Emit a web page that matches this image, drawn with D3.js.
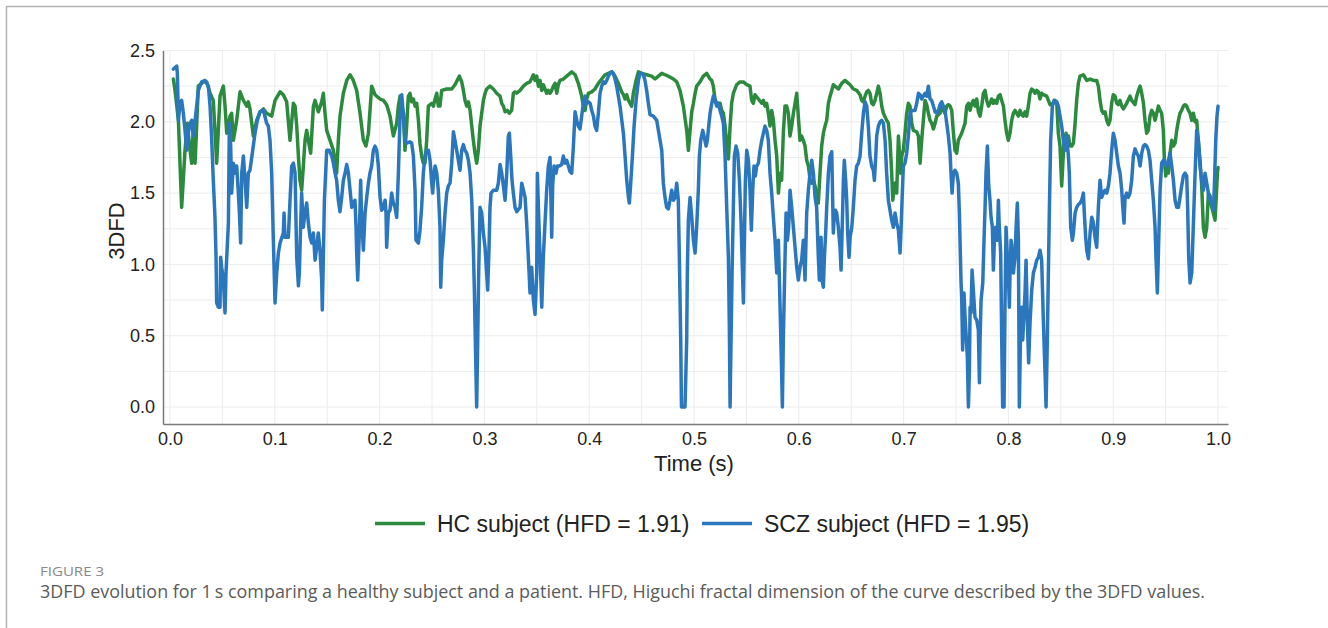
<!DOCTYPE html>
<html>
<head>
<meta charset="utf-8">
<script src="https://cdn.jsdelivr.net/npm/d3@7"></script>
<style>
  html, body { margin: 0; padding: 0; background: #ffffff; }
  svg { display: block; }
</style>
</head>
<body>
<svg id="chart" width="1328" height="628"></svg>
<script>
// ---- data -------------------------------------------------------------
const xTicks = [0, 0.1, 0.2, 0.3, 0.4, 0.5, 0.6, 0.7, 0.8, 0.9, 1.0];
const yTicks = [0, 0.5, 1.0, 1.5, 2.0, 2.5];
const seriesLabels = ["HC subject (HFD = 1.91)", "SCZ subject (HFD = 1.95)"];

// [time (s), 3DFD] for the healthy control
const hcSeries = [
  [0.0032,2.30],[0.0048,2.22],[0.0080,2.01],[0.0111,1.40],[0.0143,1.80],[0.0165,1.99],[0.0191,1.80],[0.0207,1.71],
  [0.0223,1.97],[0.0239,1.71],[0.0270,2.25],[0.0318,2.28],[0.0350,2.28],[0.0382,2.20],[0.0413,2.15],[0.0445,1.71],
  [0.0477,2.18],[0.0509,2.25],[0.0525,2.11],[0.0541,1.92],[0.0573,2.04],[0.0588,2.06],[0.0604,1.87],[0.0636,2.01],
  [0.0668,2.21],[0.0700,2.15],[0.0732,2.11],[0.0747,2.14],[0.0763,2.09],[0.0795,1.90],[0.0827,2.01],[0.0859,2.07],
  [0.0891,2.09],[0.0922,2.06],[0.0970,2.04],[0.1002,2.15],[0.1050,2.21],[0.1081,2.19],[0.1113,2.14],[0.1145,1.87],
  [0.1177,2.13],[0.1193,2.11],[0.1209,1.97],[0.1225,1.76],[0.1240,1.59],[0.1256,1.52],[0.1272,1.69],[0.1288,1.87],
  [0.1304,1.94],[0.1320,1.87],[0.1342,1.78],[0.1368,2.11],[0.1384,2.15],[0.1415,2.07],[0.1447,2.14],[0.1463,2.20],
  [0.1479,2.06],[0.1495,1.94],[0.1527,1.87],[0.1559,1.80],[0.1590,1.64],[0.1606,1.87],[0.1622,2.04],[0.1654,2.20],
  [0.1686,2.29],[0.1718,2.33],[0.1749,2.29],[0.1781,2.22],[0.1813,2.06],[0.1845,1.87],[0.1870,1.83],[0.1893,1.92],
  [0.1924,2.25],[0.1956,2.19],[0.2004,2.16],[0.2036,2.15],[0.2067,2.12],[0.2099,2.04],[0.2131,1.90],[0.2163,1.99],
  [0.2179,2.11],[0.2195,2.18],[0.2227,2.06],[0.2242,1.80],[0.2258,1.97],[0.2274,2.18],[0.2290,2.20],[0.2306,2.14],
  [0.2322,2.16],[0.2338,2.11],[0.2354,2.13],[0.2370,2.01],[0.2385,1.85],[0.2401,1.76],[0.2417,1.71],[0.2433,1.71],
  [0.2449,1.87],[0.2465,2.11],[0.2497,2.13],[0.2513,2.11],[0.2529,2.16],[0.2545,2.20],[0.2560,2.11],[0.2576,2.11],
  [0.2592,2.22],[0.2640,2.23],[0.2688,2.23],[0.2719,2.26],[0.2761,2.32],[0.2783,2.28],[0.2799,2.22],[0.2815,2.15],
  [0.2831,2.11],[0.2847,2.14],[0.2863,2.08],[0.2879,1.97],[0.2894,1.87],[0.2910,1.78],[0.2926,1.71],[0.2942,1.80],
  [0.2958,1.97],[0.2974,2.06],[0.2990,2.15],[0.3006,2.20],[0.3021,2.23],[0.3053,2.25],[0.3085,2.23],[0.3117,2.20],
  [0.3149,2.18],[0.3165,2.13],[0.3181,2.11],[0.3197,2.07],[0.3219,2.08],[0.3238,2.06],[0.3260,2.08],[0.3276,2.20],
  [0.3292,2.21],[0.3308,2.20],[0.3340,2.22],[0.3372,2.25],[0.3403,2.27],[0.3435,2.28],[0.3467,2.33],[0.3483,2.29],
  [0.3499,2.32],[0.3515,2.25],[0.3531,2.29],[0.3547,2.22],[0.3562,2.26],[0.3578,2.23],[0.3594,2.20],[0.3610,2.22],
  [0.3626,2.20],[0.3642,2.22],[0.3658,2.25],[0.3674,2.27],[0.3690,2.20],[0.3705,2.26],[0.3721,2.29],[0.3753,2.30],
  [0.3785,2.32],[0.3817,2.34],[0.3833,2.35],[0.3865,2.33],[0.3896,2.27],[0.3928,2.18],[0.3944,2.11],[0.3960,2.08],
  [0.3976,2.16],[0.3992,2.20],[0.4024,2.21],[0.4055,2.23],[0.4087,2.27],[0.4119,2.30],[0.4151,2.33],[0.4183,2.34],
  [0.4215,2.35],[0.4246,2.32],[0.4278,2.27],[0.4310,2.21],[0.4326,2.19],[0.4342,2.16],[0.4358,2.19],[0.4374,2.15],
  [0.4389,2.13],[0.4405,2.11],[0.4421,2.20],[0.4447,2.29],[0.4469,2.35],[0.4501,2.34],[0.4548,2.33],[0.4596,2.32],
  [0.4628,2.30],[0.4660,2.32],[0.4692,2.34],[0.4723,2.33],[0.4755,2.32],[0.4803,2.30],[0.4835,2.28],[0.4866,2.22],
  [0.4898,2.11],[0.4930,1.94],[0.4946,1.80],[0.4962,1.94],[0.4978,2.07],[0.4994,2.13],[0.5010,2.20],[0.5025,2.25],
  [0.5057,2.28],[0.5089,2.32],[0.5121,2.34],[0.5153,2.30],[0.5169,2.29],[0.5184,2.25],[0.5200,2.16],[0.5216,2.13],
  [0.5248,2.13],[0.5264,2.08],[0.5280,2.06],[0.5296,1.97],[0.5312,1.85],[0.5328,1.74],[0.5344,1.97],[0.5359,2.13],
  [0.5375,2.20],[0.5407,2.26],[0.5439,2.28],[0.5471,2.28],[0.5503,2.26],[0.5534,2.25],[0.5550,2.15],[0.5566,2.13],
  [0.5582,2.19],[0.5614,2.16],[0.5646,2.13],[0.5662,2.15],[0.5677,2.11],[0.5693,2.13],[0.5709,2.06],[0.5725,1.97],
  [0.5741,2.08],[0.5757,2.01],[0.5773,1.87],[0.5789,1.76],[0.5805,1.50],[0.5821,1.64],[0.5836,1.59],[0.5852,1.92],
  [0.5868,2.11],[0.5884,2.11],[0.5900,2.06],[0.5916,1.90],[0.5932,1.97],[0.5948,2.06],[0.5964,2.13],[0.5980,2.20],
  [0.5995,2.04],[0.6011,1.87],[0.6027,1.90],[0.6043,1.87],[0.6059,1.83],[0.6075,1.73],[0.6091,1.69],[0.6107,1.60],
  [0.6123,1.57],[0.6139,1.59],[0.6155,1.55],[0.6170,1.47],[0.6186,1.43],[0.6202,1.64],[0.6218,1.83],[0.6234,1.92],
  [0.6250,1.97],[0.6266,2.01],[0.6282,2.13],[0.6298,2.18],[0.6314,2.22],[0.6329,2.26],[0.6345,2.25],[0.6377,2.23],
  [0.6409,2.27],[0.6441,2.29],[0.6457,2.28],[0.6489,2.26],[0.6520,2.23],[0.6552,2.22],[0.6584,2.19],[0.6600,2.15],
  [0.6616,2.14],[0.6632,2.18],[0.6648,2.21],[0.6663,2.22],[0.6679,2.20],[0.6695,2.13],[0.6711,2.12],[0.6727,2.15],
  [0.6743,2.20],[0.6759,2.25],[0.6775,2.20],[0.6791,2.11],[0.6807,2.06],[0.6838,2.01],[0.6854,1.99],[0.6870,1.87],
  [0.6886,1.64],[0.6896,1.45],[0.6908,1.52],[0.6921,1.57],[0.6934,1.50],[0.6950,1.90],[0.6959,1.80],[0.6972,1.64],
  [0.6982,1.76],[0.6997,1.80],[0.7013,1.92],[0.7029,2.06],[0.7045,2.13],[0.7061,2.11],[0.7077,1.99],[0.7093,1.94],
  [0.7125,1.93],[0.7141,1.90],[0.7157,1.71],[0.7172,1.87],[0.7188,2.01],[0.7204,2.15],[0.7220,2.12],[0.7236,2.06],
  [0.7252,2.01],[0.7268,1.99],[0.7284,1.95],[0.7300,1.99],[0.7316,2.04],[0.7347,2.06],[0.7363,2.11],[0.7379,2.08],
  [0.7395,2.06],[0.7411,2.11],[0.7427,2.12],[0.7443,2.11],[0.7459,2.08],[0.7475,1.92],[0.7490,1.80],[0.7506,1.78],
  [0.7522,1.87],[0.7554,1.92],[0.7586,1.99],[0.7602,2.11],[0.7618,2.13],[0.7634,2.08],[0.7650,2.13],[0.7665,2.15],
  [0.7681,2.11],[0.7697,2.16],[0.7713,2.07],[0.7729,2.04],[0.7745,2.11],[0.7761,2.20],[0.7777,2.22],[0.7793,2.15],
  [0.7809,2.11],[0.7824,2.13],[0.7840,2.16],[0.7856,2.13],[0.7872,2.15],[0.7888,2.13],[0.7904,2.18],[0.7920,2.19],
  [0.7936,2.15],[0.7952,2.11],[0.7967,2.01],[0.7983,1.92],[0.7999,1.87],[0.8015,1.92],[0.8031,2.01],[0.8047,2.06],
  [0.8063,2.08],[0.8079,2.06],[0.8095,2.04],[0.8111,2.08],[0.8126,2.05],[0.8142,2.04],[0.8158,2.07],[0.8174,2.04],
  [0.8190,2.11],[0.8206,2.20],[0.8222,2.23],[0.8238,2.22],[0.8254,2.20],[0.8270,2.22],[0.8286,2.21],[0.8301,2.16],
  [0.8317,2.20],[0.8333,2.19],[0.8365,2.18],[0.8381,2.15],[0.8397,2.12],[0.8429,2.13],[0.8445,2.15],[0.8461,2.13],
  [0.8476,1.92],[0.8492,1.83],[0.8508,1.55],[0.8518,1.69],[0.8531,1.87],[0.8550,1.92],[0.8562,1.87],[0.8572,1.90],
  [0.8588,1.83],[0.8604,1.83],[0.8620,1.85],[0.8636,1.99],[0.8651,2.15],[0.8667,2.27],[0.8683,2.32],[0.8715,2.33],
  [0.8747,2.29],[0.8779,2.30],[0.8811,2.29],[0.8842,2.29],[0.8858,2.25],[0.8874,2.15],[0.8890,2.08],[0.8906,2.06],
  [0.8922,2.07],[0.8938,2.01],[0.8954,1.98],[0.8969,2.01],[0.8985,2.13],[0.9001,2.19],[0.9017,2.18],[0.9033,2.13],
  [0.9049,2.12],[0.9065,2.15],[0.9081,2.11],[0.9097,2.09],[0.9128,2.13],[0.9160,2.18],[0.9176,2.15],[0.9208,2.12],
  [0.9224,2.18],[0.9240,2.22],[0.9256,2.25],[0.9272,2.20],[0.9288,2.13],[0.9303,2.01],[0.9319,1.92],[0.9335,1.94],
  [0.9351,2.04],[0.9367,2.08],[0.9383,2.06],[0.9399,2.01],[0.9415,2.06],[0.9431,2.11],[0.9447,2.08],[0.9462,2.06],
  [0.9478,1.94],[0.9488,1.73],[0.9501,1.62],[0.9510,1.69],[0.9526,1.64],[0.9542,1.78],[0.9558,1.87],[0.9574,1.83],
  [0.9590,1.85],[0.9606,1.94],[0.9622,2.01],[0.9637,2.06],[0.9653,2.08],[0.9669,2.11],[0.9685,2.12],[0.9701,2.11],
  [0.9717,2.08],[0.9733,2.06],[0.9749,2.01],[0.9765,2.06],[0.9781,2.00],[0.9796,2.01],[0.9812,1.87],[0.9828,1.73],
  [0.9844,1.55],[0.9860,1.26],[0.9876,1.19],[0.9892,1.26],[0.9908,1.50],[0.9924,1.48],[0.9940,1.40],[0.9955,1.36],
  [0.9971,1.31],[0.9981,1.45],[0.9994,1.64],[1.0000,1.68]
];

// [time (s), 3DFD] for the schizophrenia patient
const sczSeries = [
  [0.0032,2.37],[0.0064,2.39],[0.0070,2.34],[0.0080,2.01],[0.0095,2.13],[0.0111,2.15],[0.0127,2.06],[0.0143,1.94],
  [0.0159,1.80],[0.0175,1.92],[0.0191,1.99],[0.0207,2.01],[0.0223,1.90],[0.0239,2.01],[0.0254,2.11],[0.0270,2.22],
  [0.0302,2.28],[0.0334,2.29],[0.0366,2.25],[0.0382,2.11],[0.0398,1.87],[0.0413,1.59],[0.0429,1.33],[0.0439,1.05],
  [0.0445,0.73],[0.0461,0.70],[0.0477,0.70],[0.0483,1.05],[0.0493,0.98],[0.0509,0.89],[0.0525,0.66],[0.0534,0.94],
  [0.0557,1.29],[0.0566,1.99],[0.0579,1.83],[0.0588,1.50],[0.0604,1.71],[0.0620,1.64],[0.0636,1.69],[0.0652,1.50],
  [0.0662,1.36],[0.0674,1.15],[0.0684,1.64],[0.0700,1.76],[0.0716,1.59],[0.0732,1.40],[0.0747,1.64],[0.0763,1.66],
  [0.0789,1.80],[0.0811,1.92],[0.0833,2.01],[0.0859,2.07],[0.0891,2.08],[0.0922,1.99],[0.0938,1.97],[0.0954,1.87],
  [0.0970,1.64],[0.0986,1.17],[0.1002,0.73],[0.1018,0.94],[0.1034,1.08],[0.1050,1.15],[0.1081,1.22],[0.1088,1.36],
  [0.1097,1.19],[0.1129,1.19],[0.1145,1.45],[0.1161,1.69],[0.1177,1.71],[0.1193,1.64],[0.1209,1.05],[0.1225,0.85],
  [0.1234,0.94],[0.1247,1.29],[0.1256,1.50],[0.1272,1.26],[0.1288,1.36],[0.1304,1.43],[0.1320,1.29],[0.1336,1.19],
  [0.1352,1.15],[0.1368,1.22],[0.1384,1.03],[0.1399,1.12],[0.1415,1.22],[0.1431,1.10],[0.1447,0.89],[0.1453,0.68],
  [0.1463,1.05],[0.1473,1.45],[0.1495,1.80],[0.1520,1.80],[0.1543,1.76],[0.1559,1.71],[0.1575,1.64],[0.1590,1.59],
  [0.1606,1.45],[0.1622,1.37],[0.1638,1.47],[0.1654,1.59],[0.1670,1.64],[0.1686,1.70],[0.1702,1.64],[0.1718,1.52],
  [0.1734,1.40],[0.1749,1.43],[0.1765,1.45],[0.1775,1.26],[0.1781,1.08],[0.1791,0.89],[0.1804,1.17],[0.1813,1.40],
  [0.1819,1.59],[0.1829,1.31],[0.1845,1.10],[0.1861,1.36],[0.1877,1.47],[0.1893,1.57],[0.1908,1.64],[0.1924,1.69],
  [0.1940,1.80],[0.1956,1.83],[0.1972,1.80],[0.1988,1.69],[0.2004,1.47],[0.2020,1.38],[0.2036,1.40],[0.2052,1.45],
  [0.2061,1.36],[0.2067,1.12],[0.2083,1.36],[0.2099,1.38],[0.2115,1.50],[0.2131,1.43],[0.2147,1.40],[0.2163,1.33],
  [0.2179,1.64],[0.2195,2.04],[0.2211,2.19],[0.2227,2.04],[0.2242,1.87],[0.2258,1.85],[0.2290,1.86],[0.2306,1.85],
  [0.2322,1.76],[0.2338,1.52],[0.2347,1.17],[0.2370,1.15],[0.2385,1.24],[0.2401,1.40],[0.2417,1.64],[0.2433,1.76],
  [0.2449,1.80],[0.2465,1.80],[0.2481,1.73],[0.2497,1.57],[0.2506,1.50],[0.2519,1.64],[0.2529,1.69],[0.2545,1.64],
  [0.2560,1.52],[0.2576,1.26],[0.2583,0.84],[0.2592,1.03],[0.2608,1.17],[0.2624,1.36],[0.2640,1.50],[0.2656,1.55],
  [0.2672,1.57],[0.2688,1.71],[0.2704,1.93],[0.2719,1.87],[0.2735,1.80],[0.2751,1.73],[0.2767,1.66],[0.2783,1.80],
  [0.2799,1.84],[0.2815,1.80],[0.2831,1.78],[0.2847,1.73],[0.2863,1.64],[0.2879,1.45],[0.2894,1.12],[0.2904,0.82],
  [0.2913,0.47],[0.2926,0.00],[0.2936,0.47],[0.2945,0.94],[0.2958,1.40],[0.2974,1.36],[0.2990,1.22],[0.3006,1.12],
  [0.3021,0.94],[0.3031,0.82],[0.3044,1.12],[0.3053,1.40],[0.3063,1.50],[0.3085,1.52],[0.3117,1.52],[0.3133,1.57],
  [0.3149,1.70],[0.3165,1.64],[0.3181,1.55],[0.3197,1.45],[0.3213,1.64],[0.3228,1.90],[0.3238,1.92],[0.3251,1.76],
  [0.3263,1.59],[0.3276,1.50],[0.3292,1.40],[0.3308,1.37],[0.3340,1.40],[0.3356,1.57],[0.3372,1.52],[0.3388,1.47],
  [0.3403,1.29],[0.3419,1.05],[0.3435,0.80],[0.3451,0.98],[0.3467,0.75],[0.3483,0.65],[0.3499,0.94],[0.3505,1.64],
  [0.3515,1.40],[0.3531,1.05],[0.3547,0.70],[0.3562,1.05],[0.3578,1.29],[0.3594,1.52],[0.3610,1.69],[0.3626,1.75],
  [0.3636,1.40],[0.3642,1.19],[0.3651,1.55],[0.3664,1.69],[0.3683,1.64],[0.3696,1.69],[0.3715,1.69],[0.3737,1.70],
  [0.3753,1.76],[0.3769,1.71],[0.3785,1.73],[0.3801,1.69],[0.3817,1.65],[0.3833,1.64],[0.3849,1.83],[0.3865,2.07],
  [0.3881,2.01],[0.3896,1.97],[0.3912,1.95],[0.3928,2.04],[0.3944,2.13],[0.3960,2.18],[0.3976,2.13],[0.3992,2.14],
  [0.4008,2.13],[0.4024,2.08],[0.4040,2.04],[0.4055,1.97],[0.4071,1.94],[0.4087,2.06],[0.4103,2.20],[0.4119,2.25],
  [0.4135,2.28],[0.4151,2.27],[0.4167,2.29],[0.4183,2.32],[0.4199,2.34],[0.4215,2.35],[0.4230,2.34],[0.4246,2.30],
  [0.4262,2.25],[0.4294,2.11],[0.4326,1.92],[0.4342,1.76],[0.4358,1.59],[0.4374,1.47],[0.4383,1.43],[0.4396,1.57],
  [0.4412,1.76],[0.4428,1.97],[0.4447,2.15],[0.4469,2.29],[0.4485,2.34],[0.4501,2.34],[0.4517,2.33],[0.4532,2.29],
  [0.4548,2.22],[0.4564,2.13],[0.4580,2.05],[0.4612,2.04],[0.4644,2.01],[0.4676,1.87],[0.4692,1.80],[0.4707,1.57],
  [0.4723,1.47],[0.4739,1.40],[0.4755,1.39],[0.4771,1.45],[0.4787,1.52],[0.4803,1.45],[0.4819,1.47],[0.4835,1.57],
  [0.4850,1.45],[0.4860,1.05],[0.4873,0.47],[0.4880,0.00],[0.4914,0.00],[0.4930,0.47],[0.4936,0.94],[0.4946,1.31],
  [0.4962,1.47],[0.4978,1.33],[0.4994,1.17],[0.5010,1.08],[0.5025,1.26],[0.5041,1.52],[0.5051,1.76],[0.5064,1.87],
  [0.5083,1.94],[0.5095,1.90],[0.5115,1.83],[0.5127,1.87],[0.5140,1.97],[0.5153,2.06],[0.5169,2.13],[0.5184,2.18],
  [0.5200,2.15],[0.5216,2.11],[0.5232,2.13],[0.5248,2.08],[0.5264,2.04],[0.5280,1.99],[0.5296,1.76],[0.5312,1.40],
  [0.5328,1.05],[0.5337,0.56],[0.5344,0.00],[0.5353,0.47],[0.5363,0.94],[0.5375,1.40],[0.5385,1.76],[0.5401,1.83],
  [0.5417,1.78],[0.5433,1.59],[0.5448,1.31],[0.5458,1.05],[0.5471,0.73],[0.5480,1.17],[0.5490,1.59],[0.5503,1.80],
  [0.5519,1.73],[0.5534,1.52],[0.5547,1.24],[0.5560,1.52],[0.5572,1.69],[0.5585,1.62],[0.5598,1.69],[0.5614,1.71],
  [0.5630,1.80],[0.5646,1.87],[0.5662,1.92],[0.5677,1.97],[0.5693,1.94],[0.5709,1.87],[0.5725,1.64],[0.5741,1.50],
  [0.5757,1.33],[0.5773,1.17],[0.5789,0.94],[0.5805,1.17],[0.5821,0.70],[0.5836,0.24],[0.5843,0.00],[0.5852,0.47],
  [0.5865,0.94],[0.5878,1.36],[0.5891,1.17],[0.5903,1.26],[0.5916,1.52],[0.5932,1.40],[0.5948,1.26],[0.5964,1.12],
  [0.5980,0.98],[0.5995,0.89],[0.6011,0.98],[0.6027,1.03],[0.6043,1.17],[0.6059,0.89],[0.6075,1.36],[0.6091,1.52],
  [0.6107,1.64],[0.6123,1.73],[0.6139,1.64],[0.6155,1.47],[0.6170,1.40],[0.6186,1.05],[0.6196,0.89],[0.6202,1.17],
  [0.6212,1.19],[0.6221,0.89],[0.6234,0.84],[0.6244,1.05],[0.6256,1.22],[0.6266,1.40],[0.6282,1.64],[0.6298,1.76],
  [0.6314,1.79],[0.6323,1.45],[0.6329,1.22],[0.6339,1.36],[0.6349,1.38],[0.6361,1.36],[0.6377,1.26],[0.6393,1.12],
  [0.6403,0.96],[0.6415,1.29],[0.6425,1.59],[0.6434,1.73],[0.6447,1.59],[0.6457,1.45],[0.6466,1.22],[0.6479,1.05],
  [0.6489,1.19],[0.6505,1.26],[0.6520,1.40],[0.6536,1.59],[0.6552,1.69],[0.6568,1.71],[0.6584,1.76],[0.6600,1.92],
  [0.6616,2.06],[0.6632,2.14],[0.6648,2.11],[0.6663,1.97],[0.6679,1.76],[0.6695,1.69],[0.6711,1.66],[0.6721,1.59],
  [0.6734,1.76],[0.6743,1.90],[0.6759,1.97],[0.6775,2.00],[0.6791,2.01],[0.6807,1.99],[0.6823,1.87],[0.6838,1.64],
  [0.6854,1.45],[0.6870,1.38],[0.6886,1.31],[0.6902,1.26],[0.6918,1.36],[0.6934,1.29],[0.6950,1.24],[0.6966,1.08],
  [0.6975,1.24],[0.6985,1.45],[0.6997,1.69],[0.7013,1.71],[0.7029,1.78],[0.7045,1.90],[0.7061,2.06],[0.7077,2.08],
  [0.7109,2.08],[0.7125,2.13],[0.7141,2.20],[0.7157,2.19],[0.7172,2.16],[0.7188,2.18],[0.7204,2.20],[0.7220,2.18],
  [0.7236,2.25],[0.7252,2.16],[0.7268,2.15],[0.7284,2.11],[0.7300,2.07],[0.7316,2.06],[0.7332,2.08],[0.7347,2.12],
  [0.7363,2.14],[0.7379,2.11],[0.7395,2.08],[0.7411,1.99],[0.7427,1.90],[0.7443,1.78],[0.7452,1.64],[0.7462,1.50],
  [0.7475,1.64],[0.7490,1.66],[0.7506,1.64],[0.7522,1.57],[0.7532,1.36],[0.7538,1.17],[0.7548,0.87],[0.7554,0.77],
  [0.7563,0.40],[0.7576,0.80],[0.7586,0.63],[0.7595,0.52],[0.7608,0.35],[0.7618,0.00],[0.7627,0.24],[0.7634,0.70],
  [0.7643,0.66],[0.7653,0.96],[0.7665,0.82],[0.7681,0.63],[0.7697,0.61],[0.7713,0.54],[0.7723,0.17],[0.7729,0.47],
  [0.7739,0.75],[0.7755,0.87],[0.7767,1.17],[0.7777,1.40],[0.7786,1.64],[0.7799,1.83],[0.7812,1.55],[0.7824,1.45],
  [0.7834,1.33],[0.7847,1.26],[0.7856,0.96],[0.7866,1.17],[0.7878,1.26],[0.7894,1.17],[0.7904,1.45],[0.7913,1.26],
  [0.7926,1.08],[0.7936,0.47],[0.7945,0.00],[0.7958,0.00],[0.7967,0.70],[0.7977,1.26],[0.7990,1.05],[0.7999,0.94],
  [0.8009,0.70],[0.8015,0.94],[0.8025,1.17],[0.8034,1.12],[0.8047,0.94],[0.8063,1.05],[0.8073,1.26],[0.8085,1.43],
  [0.8095,1.17],[0.8104,0.00],[0.8117,0.59],[0.8126,0.70],[0.8136,0.47],[0.8149,0.66],[0.8158,0.80],[0.8168,1.03],
  [0.8181,0.59],[0.8193,0.31],[0.8206,0.59],[0.8222,0.82],[0.8238,0.94],[0.8254,0.98],[0.8270,1.03],[0.8286,1.05],
  [0.8301,1.10],[0.8317,1.03],[0.8333,0.61],[0.8349,0.24],[0.8359,0.00],[0.8371,0.47],[0.8381,0.94],[0.8391,1.40],
  [0.8403,1.87],[0.8419,2.11],[0.8435,2.15],[0.8461,2.14],[0.8476,2.11],[0.8492,2.04],[0.8508,1.97],[0.8524,1.87],
  [0.8540,1.80],[0.8556,1.90],[0.8572,1.76],[0.8581,1.64],[0.8594,1.26],[0.8610,1.17],[0.8620,1.22],[0.8636,1.36],
  [0.8651,1.40],[0.8667,1.42],[0.8683,1.43],[0.8699,1.45],[0.8715,1.50],[0.8724,1.36],[0.8737,1.19],[0.8747,1.10],
  [0.8763,1.04],[0.8779,1.22],[0.8795,1.33],[0.8811,1.29],[0.8826,1.19],[0.8842,1.12],[0.8858,1.40],[0.8874,1.59],
  [0.8890,1.47],[0.8906,1.50],[0.8922,1.52],[0.8938,1.50],[0.8954,1.55],[0.8969,1.64],[0.8985,1.80],[0.9001,1.92],
  [0.9017,1.87],[0.9033,1.78],[0.9049,1.69],[0.9065,1.64],[0.9081,1.52],[0.9091,1.40],[0.9103,1.29],[0.9113,1.47],
  [0.9128,1.50],[0.9144,1.47],[0.9160,1.50],[0.9176,1.59],[0.9192,1.76],[0.9208,1.81],[0.9224,1.78],[0.9240,1.76],
  [0.9256,1.69],[0.9272,1.78],[0.9288,1.83],[0.9303,1.84],[0.9319,1.83],[0.9335,1.80],[0.9351,1.73],[0.9367,1.59],
  [0.9383,1.45],[0.9399,1.26],[0.9408,1.05],[0.9421,0.80],[0.9434,1.17],[0.9447,1.52],[0.9462,1.71],[0.9478,1.73],
  [0.9494,1.71],[0.9510,1.69],[0.9526,1.73],[0.9542,1.78],[0.9558,1.69],[0.9574,1.59],[0.9590,1.45],[0.9606,1.40],
  [0.9622,1.40],[0.9637,1.47],[0.9653,1.55],[0.9669,1.62],[0.9685,1.64],[0.9701,1.62],[0.9710,1.40],[0.9720,1.05],
  [0.9733,0.87],[0.9749,0.94],[0.9765,1.29],[0.9781,1.64],[0.9796,1.94],[0.9812,1.87],[0.9828,1.69],[0.9844,1.59],
  [0.9860,1.52],[0.9876,1.64],[0.9892,1.57],[0.9908,1.50],[0.9924,1.45],[0.9940,1.43],[0.9955,1.38],[0.9965,1.55],
  [0.9978,1.87],[0.9990,2.04],[1.0000,2.11]
];

// ---- layout -----------------------------------------------------------
const W = 1328, H = 628;
const FONT = "'Liberation Sans', Arial, Helvetica, sans-serif";
const CAPTION_FONT = "'Open Sans', 'Noto Sans', sans-serif";
const colors = { hc: "#2b8a3e", scz: "#2b77bd" };

const svg = d3.select("#chart");
svg.append("rect").attr("width", W).attr("height", H).attr("fill", "#ffffff");

// page frame (left and top rules)
svg.append("path")
  .attr("d", `M6.5,${H} V6.5 H${W}`)
  .attr("fill", "none").attr("stroke", "#b4b4b4").attr("stroke-width", 1.5);

const x = d3.scaleLinear().domain([-0.0067, 1.0095]).range([163, 1228]);
const y = d3.scaleLinear().domain([-0.119, 2.5]).range([424, 50.5]);

// grid
const grid = svg.append("g").attr("stroke", "#ececec").attr("stroke-width", 1);
grid.selectAll("line.gx").data(d3.range(0, 1.0001, 0.05)).join("line")
  .attr("x1", d => x(d)).attr("x2", d => x(d))
  .attr("y1", y.range()[1]).attr("y2", y.range()[0]);
grid.selectAll("line.gy").data(d3.range(0, 2.5001, 0.25)).join("line")
  .attr("x1", x.range()[0]).attr("x2", x.range()[1])
  .attr("y1", d => y(d)).attr("y2", d => y(d));

// axes
const fmt = d3.format(".1f");
const gx = svg.append("g").attr("transform", `translate(0,${y.range()[0]})`)
  .call(d3.axisBottom(x).tickValues(xTicks).tickFormat(fmt).tickSize(0).tickPadding(8));
const gy = svg.append("g").attr("transform", `translate(${x.range()[0]},0)`)
  .call(d3.axisLeft(y).tickValues(yTicks).tickFormat(fmt).tickSize(0).tickPadding(8));
[gx, gy].forEach(g => {
  g.select(".domain").attr("stroke", "#7a7a7a").attr("stroke-width", 1.5);
  g.selectAll("text").attr("font-family", FONT).attr("font-size", 18).attr("fill", "#222");
});

// axis titles
svg.append("text")
  .attr("x", x(0.5)).attr("y", 471)
  .attr("text-anchor", "middle")
  .attr("font-family", FONT).attr("font-size", 22).attr("fill", "#222")
  .text("Time (s)");
svg.append("text")
  .attr("transform", `translate(124,231) rotate(-90)`)
  .attr("text-anchor", "middle")
  .attr("font-family", FONT).attr("font-size", 22).attr("fill", "#222")
  .text("3DFD");

// series
const line = d3.line().x(d => x(d[0])).y(d => y(d[1]));
const plot = svg.append("g");
[[hcSeries, colors.hc], [sczSeries, colors.scz]].forEach(([data, c]) => {
  plot.append("path").datum(data)
    .attr("d", line)
    .attr("fill", "none")
    .attr("stroke", c)
    .attr("stroke-width", 3.5)
    .attr("stroke-linejoin", "round")
    .attr("stroke-linecap", "round");
});

// legend
const legendItems = [
  { label: seriesLabels[0], color: colors.hc, x0: 375 },
  { label: seriesLabels[1], color: colors.scz, x0: 702 }
];
const lg = svg.append("g");
legendItems.forEach(it => {
  lg.append("line")
    .attr("x1", it.x0).attr("x2", it.x0 + 50)
    .attr("y1", 523.5).attr("y2", 523.5)
    .attr("stroke", it.color).attr("stroke-width", 3.5);
  lg.append("text")
    .attr("x", it.x0 + 62).attr("y", 532)
    .attr("font-family", FONT).attr("font-size", 23).attr("fill", "#222")
    .text(it.label);
});

// caption
svg.append("text")
  .attr("x", 40).attr("y", 576)
  .attr("font-family", CAPTION_FONT)
  .attr("font-size", 13.5).attr("fill", "#888")
  .attr("textLength", 64).attr("lengthAdjust", "spacingAndGlyphs")
  .text("FIGURE 3");
svg.append("text")
  .attr("x", 40).attr("y", 598)
  .attr("font-family", CAPTION_FONT)
  .attr("font-size", 17.5).attr("fill", "#5a5a5a")
  .attr("textLength", 1165).attr("lengthAdjust", "spacingAndGlyphs")
  .text("3DFD evolution for 1\u2009s comparing a healthy subject and a patient. HFD, Higuchi fractal dimension of the curve described by the 3DFD values.");
</script>
</body>
</html>
